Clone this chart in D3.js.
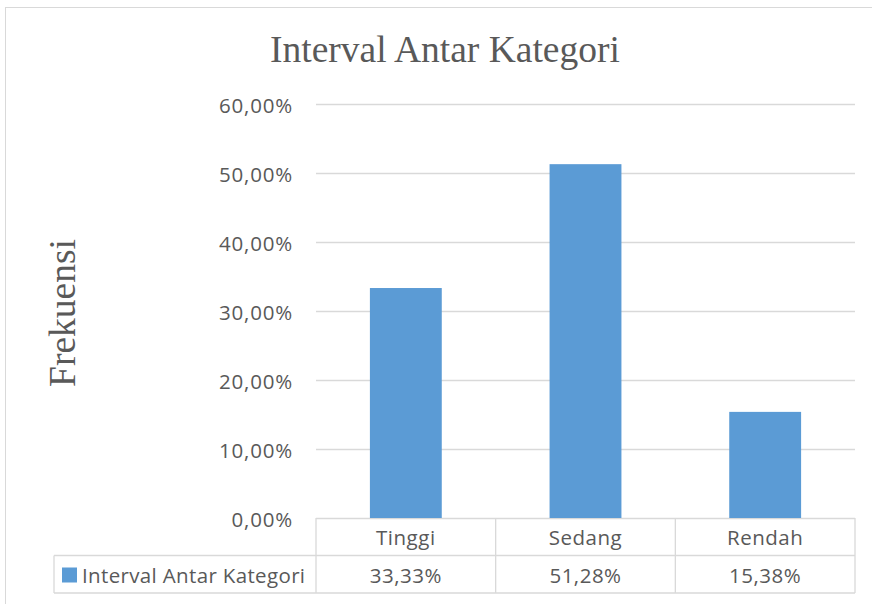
<!DOCTYPE html>
<html>
<head>
<meta charset="utf-8">
<script src="https://cdn.jsdelivr.net/npm/d3@7"></script>
<style>
  body { margin: 0; background: #fff; }
  svg { display: block; }
</style>
</head>
<body>
<script>
var categories = ["Tinggi", "Sedang", "Rendah"];
var values = [33.33, 51.28, 15.38];
var seriesName = "Interval Antar Kategori";
var yTicks = [0, 10, 20, 30, 40, 50, 60];

var W = 872, H = 604;
var svg = d3.select("body").append("svg")
    .attr("width", W)
    .attr("height", H);

var fmt = function (v) {
    return v.toFixed(2).replace(".", ",") + "%";
};

var labelFont = "'Open Sans', sans-serif";
var labelSize = 20.5;

// chart border
svg.append("rect")
    .attr("x", 5.5).attr("y", 7.5)
    .attr("width", 880).attr("height", 620)
    .attr("fill", "#fff")
    .attr("stroke", "#d9d9d9");

var x0 = 316, x1 = 855, yTop = 104, yBot = 518;

var x = d3.scaleBand()
    .domain(categories)
    .range([x0, x1])
    .paddingInner(0.6)
    .paddingOuter(0.3);

var y = d3.scaleLinear()
    .domain([0, 60])
    .range([yBot, yTop]);

// gridlines
svg.append("g").selectAll("line")
    .data(yTicks)
    .enter().append("line")
    .attr("x1", x0).attr("x2", x1)
    .attr("y1", d => y(d) + 0.5).attr("y2", d => y(d) + 0.5)
    .attr("stroke", "#d9d9d9")
    .attr("stroke-width", 1.3);

// y tick labels
svg.append("g").selectAll("text")
    .data(yTicks)
    .enter().append("text")
    .attr("x", 293)
    .attr("y", d => y(d) + 8.5)
    .attr("text-anchor", "end")
    .attr("font-family", labelFont)
    .attr("font-size", labelSize)
    .attr("letter-spacing", 0.8)
    .attr("fill", "#595959")
    .text(d => fmt(d));

// bars
svg.append("g").selectAll("rect")
    .data(values)
    .enter().append("rect")
    .attr("x", (d, i) => x(categories[i]))
    .attr("y", d => y(d))
    .attr("width", x.bandwidth())
    .attr("height", d => yBot - y(d))
    .attr("fill", "#5b9bd5");

// data table
var rowH = 37.5;
var cellW = (x1 - x0) / categories.length;
var tbl = svg.append("g")
    .attr("fill", "none")
    .attr("stroke", "#d9d9d9")
    .attr("stroke-width", 1.3);

tbl.append("line")
    .attr("x1", 54).attr("x2", x1)
    .attr("y1", yBot + rowH).attr("y2", yBot + rowH);
tbl.append("line")
    .attr("x1", 54).attr("x2", x1)
    .attr("y1", yBot + 2 * rowH).attr("y2", yBot + 2 * rowH);
tbl.append("line")
    .attr("x1", 54).attr("x2", 54)
    .attr("y1", yBot + rowH).attr("y2", yBot + 2 * rowH);
tbl.selectAll("line.v")
    .data(d3.range(categories.length + 1))
    .enter().append("line")
    .attr("class", "v")
    .attr("x1", i => x0 + i * cellW).attr("x2", i => x0 + i * cellW)
    .attr("y1", yBot).attr("y2", yBot + 2 * rowH);

var tt = svg.append("g")
    .attr("font-family", labelFont)
    .attr("font-size", labelSize)
    .attr("letter-spacing", 0.5)
    .attr("fill", "#595959")
    .attr("text-anchor", "middle");

tt.selectAll("text.cat")
    .data(categories)
    .enter().append("text")
    .attr("class", "cat")
    .attr("x", d => x(d) + x.bandwidth() / 2)
    .attr("y", yBot + 27)
    .text(d => d);

tt.selectAll("text.val")
    .data(values)
    .enter().append("text")
    .attr("class", "val")
    .attr("x", (d, i) => x(categories[i]) + x.bandwidth() / 2)
    .attr("y", yBot + rowH + 27)
    .text(d => fmt(d));

// legend key in table
svg.append("rect")
    .attr("x", 62).attr("y", yBot + rowH + 12)
    .attr("width", 15).attr("height", 15)
    .attr("fill", "#5b9bd5");
svg.append("text")
    .attr("x", 82).attr("y", yBot + rowH + 27)
    .attr("font-family", labelFont)
    .attr("font-size", labelSize)
    .attr("letter-spacing", 0.35)
    .attr("fill", "#595959")
    .text(seriesName);

// title
svg.append("text")
    .attr("x", 445).attr("y", 62)
    .attr("text-anchor", "middle")
    .attr("font-family", "'Liberation Serif', serif")
    .attr("font-size", 37.5)
    .attr("fill", "#595959")
    .text(seriesName);

// y axis title
svg.append("text")
    .attr("transform", "translate(75,313) rotate(-90)")
    .attr("text-anchor", "middle")
    .attr("font-family", "'Liberation Serif', serif")
    .attr("font-size", 37.5)
    .attr("fill", "#595959")
    .text("Frekuensi");
</script>
</body>
</html>
